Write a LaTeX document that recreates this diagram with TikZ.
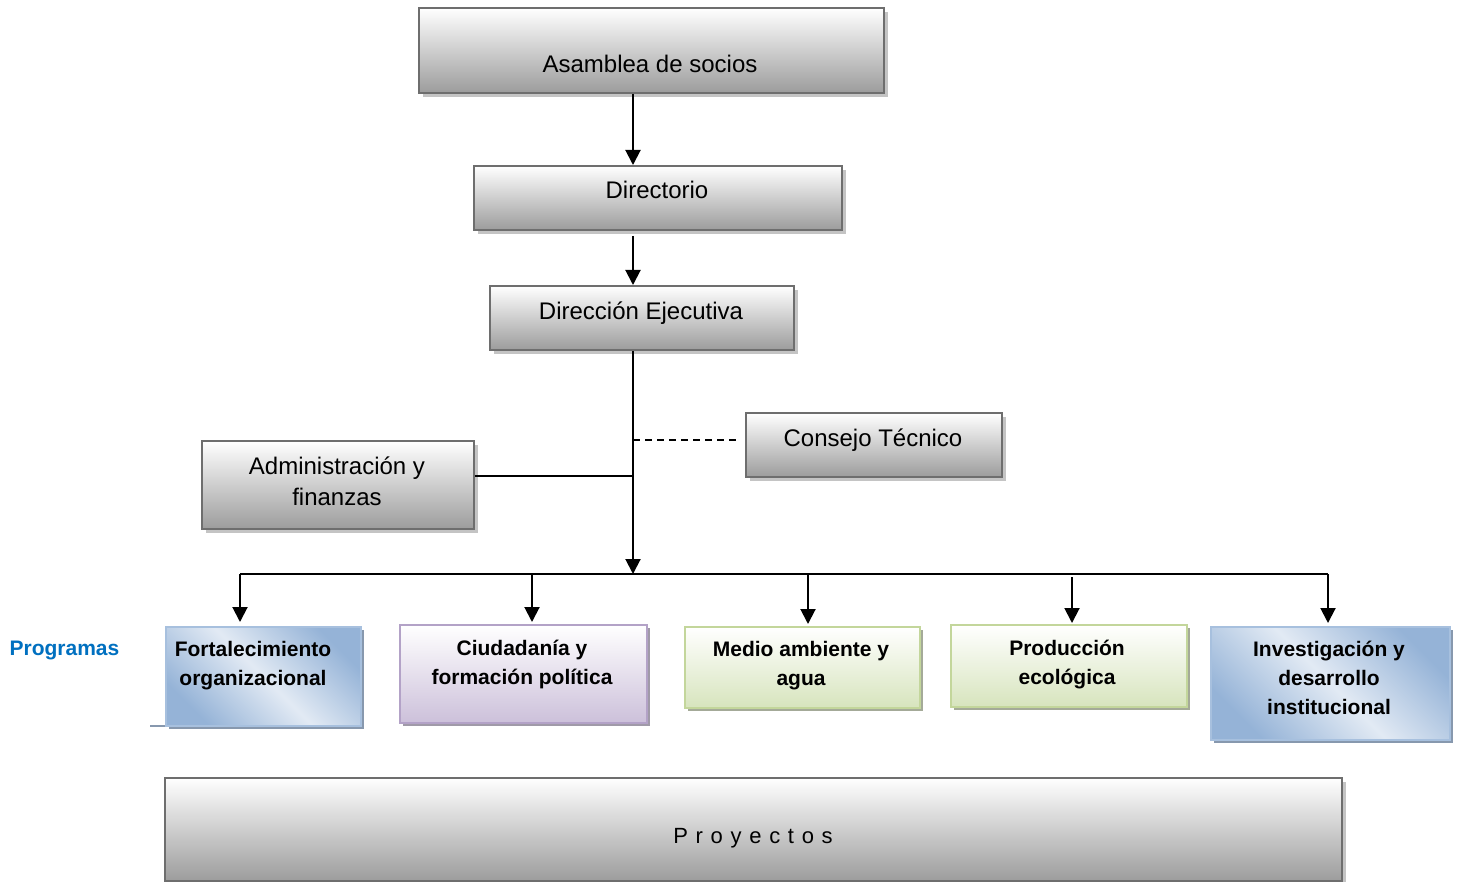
\documentclass[tikz,border=0pt]{standalone}
\usepackage{fontspec}
\setmainfont{Liberation Sans}
\usetikzlibrary{arrows.meta,shadows}
\definecolor{gborder}{HTML}{6E6E6E}
\definecolor{gshadow}{HTML}{C4C4C4}
\definecolor{gbot}{HTML}{9C9C9C}
\definecolor{bdark}{HTML}{95B3D7}
\definecolor{blight}{HTML}{E2EAF4}
\definecolor{bborder}{HTML}{A7C0DE}
\definecolor{bshadow}{HTML}{8798AE}
\definecolor{pborder}{HTML}{B3A2C7}
\definecolor{pbot}{HTML}{CCC0DA}
\definecolor{pshadow}{HTML}{A09AA8}
\definecolor{grborder}{HTML}{C3D69B}
\definecolor{grbot}{HTML}{D7E4BD}
\definecolor{grshadow}{HTML}{A4AA98}
\definecolor{progblue}{HTML}{0070C0}
\newcommand\myls{\kern7.7pt}
\tikzset{
  box/.style={rectangle, anchor=north west, inner sep=0pt, line width=2pt},
  graybox/.style={box, draw=gborder, top color=white, bottom color=gbot,
    drop shadow={shadow xshift=4pt, shadow yshift=-4pt, fill=gshadow, opacity=1}},
  bluebox/.style={box, draw=bborder, top color=bdark, bottom color=bdark, middle color=blight, shading angle=-45,
    drop shadow={shadow xshift=3pt, shadow yshift=-3pt, fill=bshadow, opacity=1}},
  purplebox/.style={box, draw=pborder, top color=white, bottom color=pbot,
    drop shadow={shadow xshift=3pt, shadow yshift=-3pt, fill=pshadow, opacity=1}},
  greenbox/.style={box, draw=grborder, top color=white, bottom color=grbot,
    drop shadow={shadow xshift=3pt, shadow yshift=-3pt, fill=grshadow, opacity=1}},
  reg/.style={font=\fontsize{24}{31}\selectfont, inner sep=0pt, anchor=base},
  prog/.style={font=\fontsize{21}{29}\selectfont\bfseries, inner sep=0pt, align=center, anchor=center},
  conn/.style={line width=2pt, black},
  arr/.style={conn, -{Triangle[width=15pt,length=15pt]}},
}
\begin{document}
\begin{tikzpicture}[x=1pt,y=-1pt]
\useasboundingbox (0,0) rectangle (1458,882);
\fill[white] (0,0) rectangle (1458,882);

% boxes
\node[graybox, minimum width=465pt, minimum height=85pt] (asam) at (418,7) {};
\node[graybox, minimum width=368pt, minimum height=64pt] (dir) at (473,165) {};
\node[graybox, minimum width=304pt, minimum height=64pt] (dej) at (489,285) {};
\node[graybox, minimum width=256pt, minimum height=64pt] (con) at (745,412) {};
\node[graybox, minimum width=272pt, minimum height=88pt] (adm) at (201,440) {};
\node[graybox, minimum width=1177pt, minimum height=103pt] (proy) at (164,777) {};

\draw[bshadow, line width=2pt] (150,726) -- (165,726);
\node[bluebox, minimum width=195pt, minimum height=99pt] (fort) at (165,626) {};
\node[purplebox, minimum width=247pt, minimum height=98pt] (ciud) at (399,624) {};
\node[greenbox, minimum width=235pt, minimum height=81pt] (medio) at (684,626) {};
\node[greenbox, minimum width=236pt, minimum height=82pt] (prod) at (950,624) {};
\node[bluebox, minimum width=239pt, minimum height=113pt] (inv) at (1210,626) {};

% texts
\node[reg] (asamt) at (650,72.6) {Asamblea de socios};
\node[reg] (dirt) at (657,198.6) {Directorio};
\node[reg] (dejt) at (641,319.6) {Dirección Ejecutiva};
\node[reg] (cont) at (873,446.6) {Consejo Técnico};
\node[reg, align=center, anchor=center] (admt) at (337,481) {Administración y\\finanzas};
\node[inner sep=0pt, anchor=base, font=\fontsize{22}{26}\selectfont] (proyt) at (753,843)
  {P\myls r\myls o\myls y\myls e\myls c\myls t\myls o\myls s};
\node[inner sep=0pt, anchor=base, font=\fontsize{21}{25}\selectfont\bfseries, text=progblue] (progl) at (64.5,655.5) {Programas};
\node[prog] (fortt) at (253,665.5) {Fortalecimiento\\organizacional};
\node[prog] (ciudt) at (522,664.5) {Ciudadanía y\\formación política};
\node[prog] (mediot) at (801,665.5) {Medio ambiente y\\agua};
\node[prog] (prodt) at (1067,664.5) {Producción\\ecológica};
\node[prog] (invt) at (1329,677.5) {Investigación y\\desarrollo\\institucional};

% connector coordinates
\coordinate (spine) at (633,0);
\coordinate (busL) at (240,574);
\coordinate (busR) at (1328,574);
\coordinate (dc) at (532,574);
\coordinate (dm) at (808,574);
\coordinate (dp) at (1072,574);
\coordinate (admy) at (0,476);
\coordinate (cony) at (0,440);

\draw[arr] (asam.south -| spine) -- (dir.north -| spine);
\draw[arr] ([yshift=-5pt]dir.south -| spine) -- (dej.north -| spine);
\draw[arr] (dej.south -| spine) -- (spine |- busL);
\draw[conn] (adm.east |- admy) -- (spine |- admy);
\draw[conn, dash pattern=on 7pt off 5pt] (spine |- cony) -- ([xshift=-5pt]con.west |- cony);
\draw[conn] (busL) -- (busR);
\draw[arr] (busL) -- ([yshift=4pt]busL |- fort.north);
\draw[arr] (dc) -- ([yshift=2pt]dc |- ciud.north);
\draw[arr] (dm) -- ([yshift=2pt]dm |- medio.north);
\draw[arr] ([yshift=-3pt]dp) -- ([yshift=1pt]dp |- prod.north);
\draw[arr] (busR) -- ([yshift=3pt]busR |- inv.north);
\end{tikzpicture}
\end{document}
